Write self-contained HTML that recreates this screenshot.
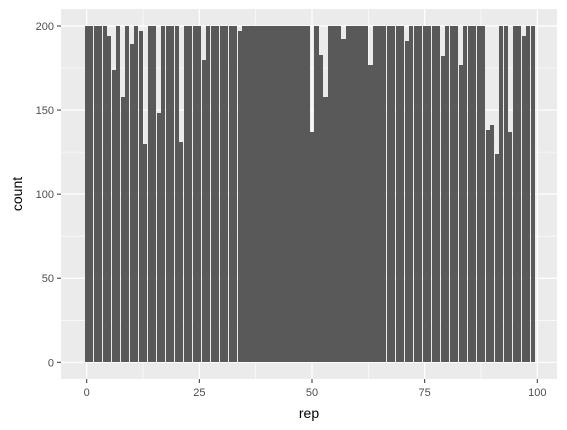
<!DOCTYPE html>
<html><head><meta charset="utf-8"><style>
html,body{margin:0;padding:0;background:#fff;}
svg{display:block;font-family:"Liberation Sans","DejaVu Sans",sans-serif;}
</style></head><body>
<svg id="chart" width="567" height="430" viewBox="0 0 567 430">
<rect x="61" y="9" width="496" height="370" fill="#EBEBEB"/>
<g id="grid"></g>
<g id="bars" shape-rendering="crispEdges"></g>
<g id="axes"></g>
<text x="309" y="418" text-anchor="middle" font-size="14" fill="#000">rep</text>
<text x="22" y="194" text-anchor="middle" font-size="14" fill="#000" transform="rotate(-90 22 194)">count</text>
</svg>
<script>
const reps = Array.from({length:100},(_,i)=>i);
const counts = [200,200,200,200,200,194,174,200,158,200,
189,200,197,130,200,200,148,200,200,200,
200,131,200,200,200,200,180,200,200,200,
200,200,200,200,197,200,200,200,200,200,
200,200,200,200,200,200,200,200,200,200,
137,200,183,158,200,200,200,192,200,200,
200,200,200,177,200,200,200,200,200,200,
200,191,200,200,200,200,200,200,200,182,
200,200,200,177,200,200,200,200,200,138,
141,124,200,200,137,200,200,194,200,200];
const xTicks = [0,25,50,75,100];
const yTicks = [0,50,100,150,200];
const xMinor = [12.5,37.5,62.5,87.5];
const yMinor = [25,75,125,175];

const NS="http://www.w3.org/2000/svg";
const px = v => 86.7 + v*4.506;
const py = v => 362.3 - v*1.6815;
function mk(tag, attrs, parent){const e=document.createElementNS(NS,tag);for(const k in attrs)e.setAttribute(k,attrs[k]);parent.appendChild(e);return e;}
const grid=document.getElementById('grid'), bars=document.getElementById('bars'), axes=document.getElementById('axes');
yMinor.forEach(v=>{const l=mk('line',{x1:61,x2:557,y1:py(v),y2:py(v),stroke:'#fff','stroke-width':0.6},grid);

});
xMinor.forEach(v=>{const l=mk('line',{x1:px(v),x2:px(v),y1:9,y2:379,stroke:'#fff','stroke-width':0.6},grid);

});
yTicks.forEach(v=>{const l=mk('line',{x1:61,x2:557,y1:py(v),y2:py(v),stroke:'#fff','stroke-width':1.2},grid);


const t=mk('line',{x1:57,x2:61,y1:py(v),y2:py(v),stroke:'#333','stroke-width':1},axes);


const tx=mk('text',{x:54,y:py(v)+4,'text-anchor':'end','font-size':11,fill:'#4D4D4D'},axes);tx.textContent=v;

});
xTicks.forEach(v=>{const l=mk('line',{x1:px(v),x2:px(v),y1:9,y2:379,stroke:'#fff','stroke-width':1.2},grid);


const t=mk('line',{x1:px(v),x2:px(v),y1:379,y2:383,stroke:'#333','stroke-width':1},axes);


const tx=mk('text',{x:px(v),y:396,'text-anchor':'middle','font-size':11,fill:'#4D4D4D'},axes);tx.textContent=v;

});
reps.forEach((r,i)=>{const c=counts[i];
const x0=Math.round(px(r-0.465)), x1=Math.round(px(r+0.465));
const y0=Math.round(py(c)), y1=Math.round(py(0));
const b=mk('rect',{x:x0,width:x1-x0,y:y0,height:y1-y0,fill:'#595959'},bars);

});
</script>
</body></html>
